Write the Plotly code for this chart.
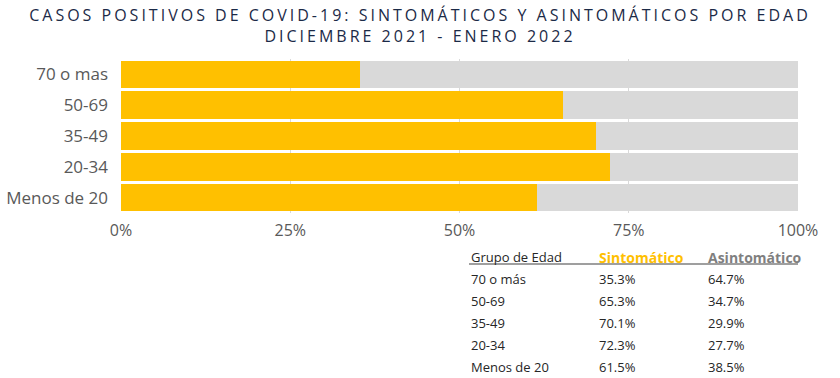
import plotly.graph_objects as go

categories = ["Menos de 20", "20-34", "35-49", "50-69", "70 o mas"]
sintomatico = [61.5, 72.3, 70.1, 65.3, 35.3]
asintomatico = [38.5, 27.7, 29.9, 34.7, 64.7]
table_labels = ["70 o más", "50-69", "35-49", "20-34", "Menos de 20"]
table_sint = [35.3, 65.3, 70.1, 72.3, 61.5]
table_asint = [64.7, 34.7, 29.9, 27.7, 38.5]
x_ticks = [0, 25, 50, 75, 100]
x_tick_labels = ["0%", "25%", "50%", "75%", "100%"]

YELLOW = "#FFC000"
GRAY = "#D9D9D9"
NAVY = "#1B2A47"
W, H = 840, 378
L, R, T, B = 121, 42, 59, 165
pw, ph = W - L - R, H - T - B

def px_x(x):
    return (x - L) / pw

def px_y(y):
    return (H - B - y) / ph

fig = go.Figure()
fig.add_trace(go.Bar(y=categories, x=sintomatico, orientation="h",
                     marker=dict(color=YELLOW, line=dict(width=0)), name="Sintomático"))
fig.add_trace(go.Bar(y=categories, x=asintomatico, orientation="h",
                     marker=dict(color=GRAY, line=dict(width=0)), name="Asintomático"))

ann = []
tfont = dict(family="Open Sans, sans-serif", size=13, color="#262626")
hy = px_y(257)
ann.append(dict(x=px_x(469), y=hy, text="Grupo de Edad", xanchor="left", yanchor="middle", font=tfont))
ann.append(dict(x=px_x(597), y=hy, text="<b>Sintomático</b>", xanchor="left", yanchor="middle",
                font=dict(family="Open Sans, sans-serif", size=14, color=YELLOW)))
ann.append(dict(x=px_x(706), y=hy, text="<b>Asintomático</b>", xanchor="left", yanchor="middle",
                font=dict(family="Open Sans, sans-serif", size=14, color="#7F7F7F")))
row_y = [279, 301, 323, 345, 367]
for i, lab in enumerate(table_labels):
    yy = px_y(row_y[i])
    ann.append(dict(x=px_x(469), y=yy, text=lab, xanchor="left", yanchor="middle", font=tfont))
    ann.append(dict(x=px_x(597), y=yy, text=f"{table_sint[i]:.1f}%", xanchor="left", yanchor="middle", font=tfont))
    ann.append(dict(x=px_x(706), y=yy, text=f"{table_asint[i]:.1f}%", xanchor="left", yanchor="middle", font=tfont))
for a in ann:
    a.update(xref="paper", yref="paper", showarrow=False)

fig.add_shape(type="line", xref="paper", yref="paper", x0=px_x(469), x1=px_x(798),
              y0=px_y(264), y1=px_y(264), line=dict(color="#404040", width=1.2))

fig.update_layout(
    width=W, height=H,
    margin=dict(l=L, r=R, t=T, b=B, pad=0),
    barmode="stack", bargap=0.1,
    showlegend=False,
    plot_bgcolor="white", paper_bgcolor="white",
    title=dict(text="CASOS POSITIVOS DE COVID-19: SINTOMÁTICOS Y ASINTOMÁTICOS POR EDAD<br>DICIEMBRE 2021 - ENERO 2022",
               x=0.5, xanchor="center", y=1 - 21 / H, yanchor="middle",
               font=dict(family="Open Sans, sans-serif", size=16, color=NAVY)),
    annotations=ann,
    xaxis=dict(range=[0, 100], tickvals=x_ticks, ticktext=x_tick_labels, showgrid=True,
               gridcolor="#D9D9D9", gridwidth=1, automargin=False,
               zeroline=False, showline=False, ticks="", ticklabelstandoff=6,
               tickfont=dict(family="Open Sans, sans-serif", size=16, color="#595959")),
    yaxis=dict(showgrid=False, zeroline=False, showline=False, ticks="", ticklabelstandoff=12,
               automargin=False,
               tickfont=dict(family="Open Sans, sans-serif", size=17, color="#595959")),
)
post = ("document.body.style.margin='0';"
        "document.querySelectorAll('.gtitle').forEach(function(e){e.style.letterSpacing='3.0px';});")
fig.write_html("out.html", post_script=post, config={"displayModeBar": False})
